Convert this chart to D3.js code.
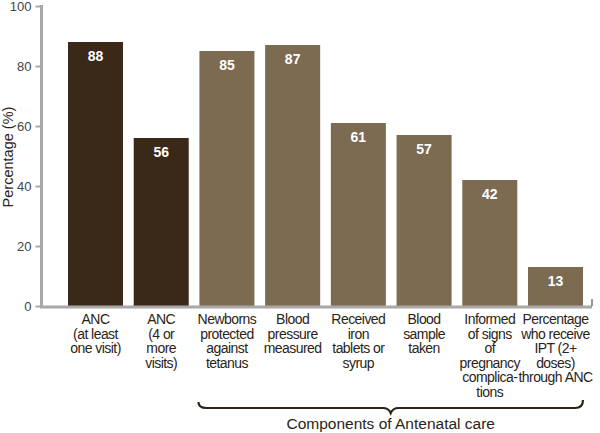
<!DOCTYPE html>
<html><head><meta charset="utf-8">
<script src="https://cdn.jsdelivr.net/npm/d3@7"></script>
<style>body{margin:0;background:#fff;} text{font-family:"Liberation Sans",Arial,sans-serif;}</style>
</head><body>
<svg id="c" width="600" height="433"></svg>
<script>
const categories = [
  ["ANC","(at least","one visit)"],
  ["ANC","(4 or","more","visits)"],
  ["Newborns","protected","against","tetanus"],
  ["Blood","pressure","measured"],
  ["Received","iron","tablets or","syrup"],
  ["Blood","sample","taken"],
  ["Informed","of signs","of","pregnancy","complica-","tions"],
  ["Percentage","who receive","IPT (2+","doses)","through ANC"]
];
const values = [88, 56, 85, 87, 61, 57, 42, 13];
const groups = ["ANC","ANC","Component","Component","Component","Component","Component","Component"];
const yTicks = [0, 20, 40, 60, 80, 100];
const braceLabel = "Components of Antenatal care";
const yTitle = "Percentage (%)";

const svg = d3.select("#c");
const x = d3.scaleBand().domain(d3.range(values.length)).range([68, 583]).paddingInner(0.163).paddingOuter(0);
const y = d3.scaleLinear().domain([0, 100]).range([306, 6]);
const color = d3.scaleOrdinal().domain(["ANC","Component"]).range(["#3a2819","#7c6b50"]);

// bars
svg.selectAll("rect.bar").data(values).join("rect")
  .attr("x", (d,i)=>x(i)).attr("y", d=>y(d))
  .attr("width", x.bandwidth()).attr("height", d=>y(0)-y(d))
  .attr("fill", (d,i)=>color(groups[i]));

// value labels
svg.selectAll("text.val").data(values).join("text")
  .attr("x", (d,i)=>x(i)+x.bandwidth()/2).attr("y", d=>y(d)+19)
  .attr("text-anchor","middle").attr("fill","#fff")
  .attr("font-size", 14).attr("font-weight","bold").text(d=>d);

// y axis
const yAxis = d3.axisLeft(y).tickValues(yTicks).tickSize(6).tickPadding(4);
const gy = svg.append("g").attr("transform","translate(41.5,0)").call(yAxis);
gy.select(".domain").attr("stroke","#a8a8a8").attr("stroke-width",3).attr("d","M0,5V307");
gy.selectAll(".tick line").attr("stroke","#a8a8a8").attr("stroke-width",2);
gy.selectAll(".tick text").attr("font-size",13).attr("fill","#444").attr("font-family","Liberation Sans, Arial, sans-serif");

// x axis line
svg.append("line").attr("x1",40).attr("x2",592).attr("y1",307).attr("y2",307)
  .attr("stroke","#a8a8a8").attr("stroke-width",3);
svg.append("line").attr("x1",592).attr("x2",592).attr("y1",299).attr("y2",306)
  .attr("stroke","#333").attr("stroke-width",1);

// category labels
const cl = svg.selectAll("text.cat").data(categories).join("text")
  .attr("text-anchor","middle").attr("font-size",14).attr("fill","#2a2418")
  .attr("letter-spacing","-0.55");
cl.each(function(lines,i){
  const t = d3.select(this);
  lines.forEach((l,j)=>{
    t.append("tspan").attr("x", x(i)+x.bandwidth()/2).attr("y", 324 + j*14.6).text(l);
  });
});

// y title
svg.append("text").attr("transform","translate(13,157) rotate(-90)")
  .attr("text-anchor","middle").attr("font-size",14.5).attr("fill","#2a2418").text(yTitle);

// brace
const bx0 = x(2) - 1, bx1 = x(values.length-1) + x.bandwidth(), bmid = (bx0+bx1)/2;
const by = 408;
svg.append("path")
  .attr("d", `M${bx0},402 Q${bx0},${by} ${bx0+8},${by} L${bmid-8},${by} Q${bmid-2},${by} ${bmid},${by+5} Q${bmid+2},${by} ${bmid+8},${by} L${bx1-8},${by} Q${bx1},${by} ${bx1},400`)
  .attr("fill","none").attr("stroke","#2a2418").attr("stroke-width",2.2);
svg.append("text").attr("x", bmid).attr("y", 429).attr("text-anchor","middle")
  .attr("font-size",15.5).attr("fill","#2a2418").text(braceLabel);
</script>
</body></html>
